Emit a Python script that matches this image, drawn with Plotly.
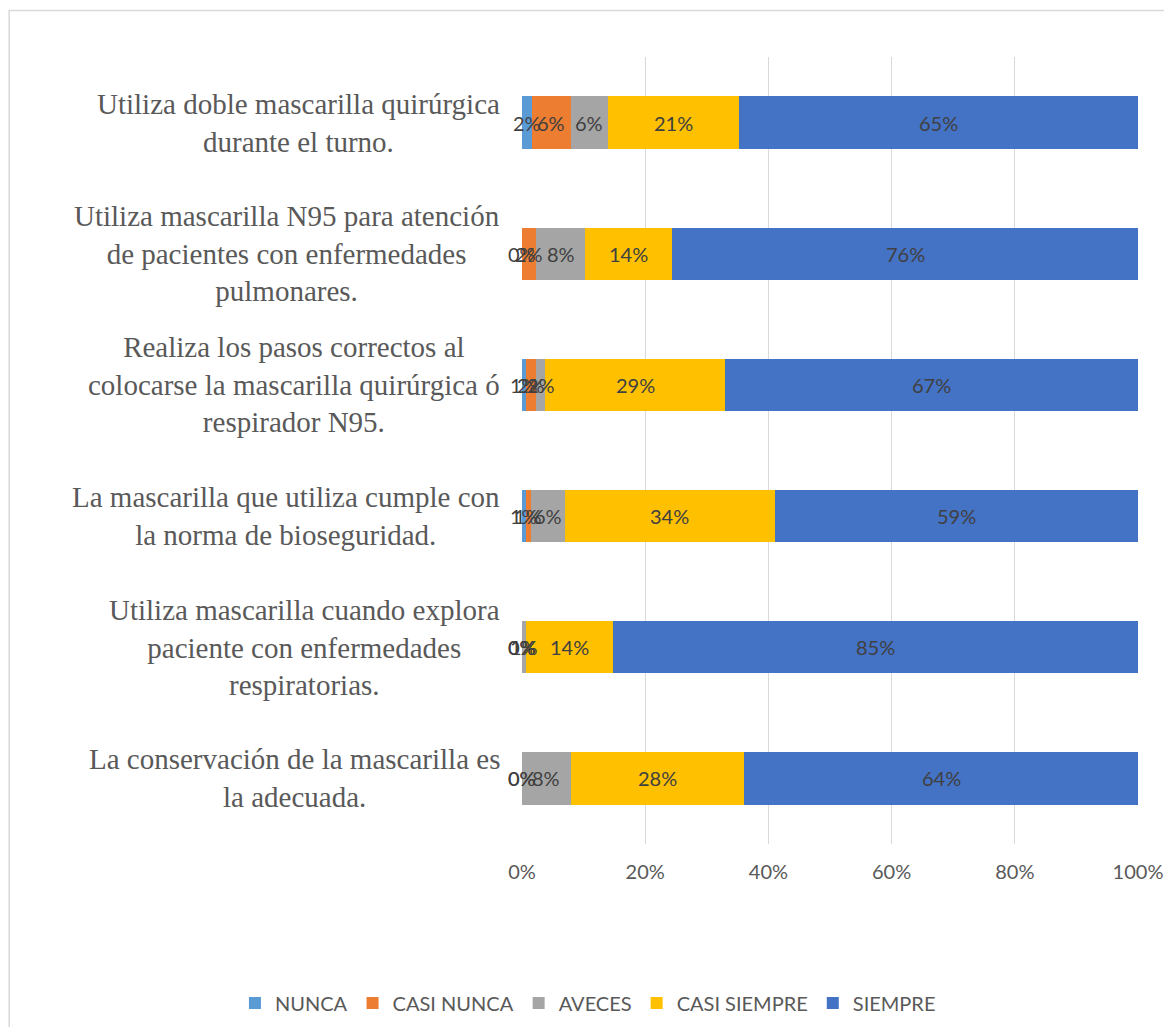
import plotly.graph_objects as go

categories = [
    "Utiliza doble mascarilla quirúrgica<br>durante el turno.",
    "Utiliza mascarilla N95 para atención<br>de pacientes con enfermedades<br>pulmonares.",
    "Realiza los pasos correctos al<br>colocarse la mascarilla quirúrgica ó<br>respirador N95.",
    "La mascarilla que utiliza cumple con<br>la norma de bioseguridad.",
    "Utiliza mascarilla cuando explora<br>paciente con enfermedades<br>respiratorias.",
    "La conservación de la mascarilla es<br>la adecuada.",
]
series_names = ["NUNCA", "CASI NUNCA", "AVECES", "CASI SIEMPRE", "SIEMPRE"]
nunca = [1.6, 0.0, 0.6, 0.6, 0.0, 0.0]
casi_nunca = [6.3, 2.3, 1.7, 0.8, 0.0, 0.0]
aveces = [6.1, 7.9, 1.5, 5.6, 0.6, 7.9]
casi_siempre = [21.3, 14.2, 29.2, 34.0, 14.2, 28.2]
siempre = [64.7, 75.6, 67.0, 59.0, 85.2, 63.9]
colors = ["#5B9BD5", "#ED7D31", "#A5A5A5", "#FFC000", "#4472C4"]
x_ticks = [0, 20, 40, 60, 80, 100]

series = [nunca, casi_nunca, aveces, casi_siempre, siempre]
ykeys = [f"c{i}" for i in range(len(categories))]

SANS = "Lato, Liberation Sans, Arial, sans-serif"

fig = go.Figure()
for name, vals, col in zip(series_names, series, colors):
    fig.add_trace(go.Bar(
        y=ykeys, x=vals, name=name, orientation="h",
        marker=dict(color=col, line=dict(width=0)),
        hoverinfo="x+name",
    ))

annotations = []
cum = [0.0] * len(categories)
for vals in series:
    for i, v in enumerate(vals):
        annotations.append(dict(
            x=cum[i] + v / 2, y=ykeys[i], xref="x", yref="y",
            text=f"{int(v + 0.5)}%", showarrow=False,
            font=dict(family=SANS, size=20, color="#404040"),
        ))
        cum[i] += v

for i, cat in enumerate(categories):
    annotations.append(dict(
        x=0, y=ykeys[i], xref="paper", yref="y", xanchor="right", xshift=-20,
        text=cat, showarrow=False, align="center",
        font=dict(family="Liberation Serif, Times New Roman, serif", size=29, color="#595959"),
    ))

fig.update_layout(
    width=1156, height=1019,
    barmode="stack", bargap=0.6,
    paper_bgcolor="white", plot_bgcolor="white",
    margin=dict(l=514, r=26, t=49, b=183, autoexpand=False),
    annotations=annotations,
    xaxis=dict(
        range=[0, 100], tickvals=x_ticks, ticktext=[f"{t}%" for t in x_ticks],
        showgrid=True, gridcolor="#D9D9D9", gridwidth=1, zeroline=False,
        showline=False, ticks="", ticklabelstandoff=14, ticklabeloverflow="allow",
        tickfont=dict(family=SANS, size=20, color="#595959"),
    ),
    yaxis=dict(
        categoryorder="array", categoryarray=ykeys, autorange="reversed",
        showticklabels=False, showgrid=False, zeroline=False, showline=False, ticks="",
    ),
    legend=dict(
        orientation="h", xref="paper", yref="paper",
        x=-0.466, xanchor="left", y=-0.202, yanchor="middle",
        font=dict(family=SANS, size=20, color="#595959"),
        traceorder="normal", itemwidth=30,
    ),
    shapes=[dict(
        type="rect", xref="paper", yref="paper",
        x0=-0.8325, x1=1.1, y0=-0.3, y1=1.059,
        line=dict(color="#D9D9D9", width=1.5), fillcolor="rgba(0,0,0,0)", layer="below",
    )],
    showlegend=True,
)

fig.write_html("out.html")
